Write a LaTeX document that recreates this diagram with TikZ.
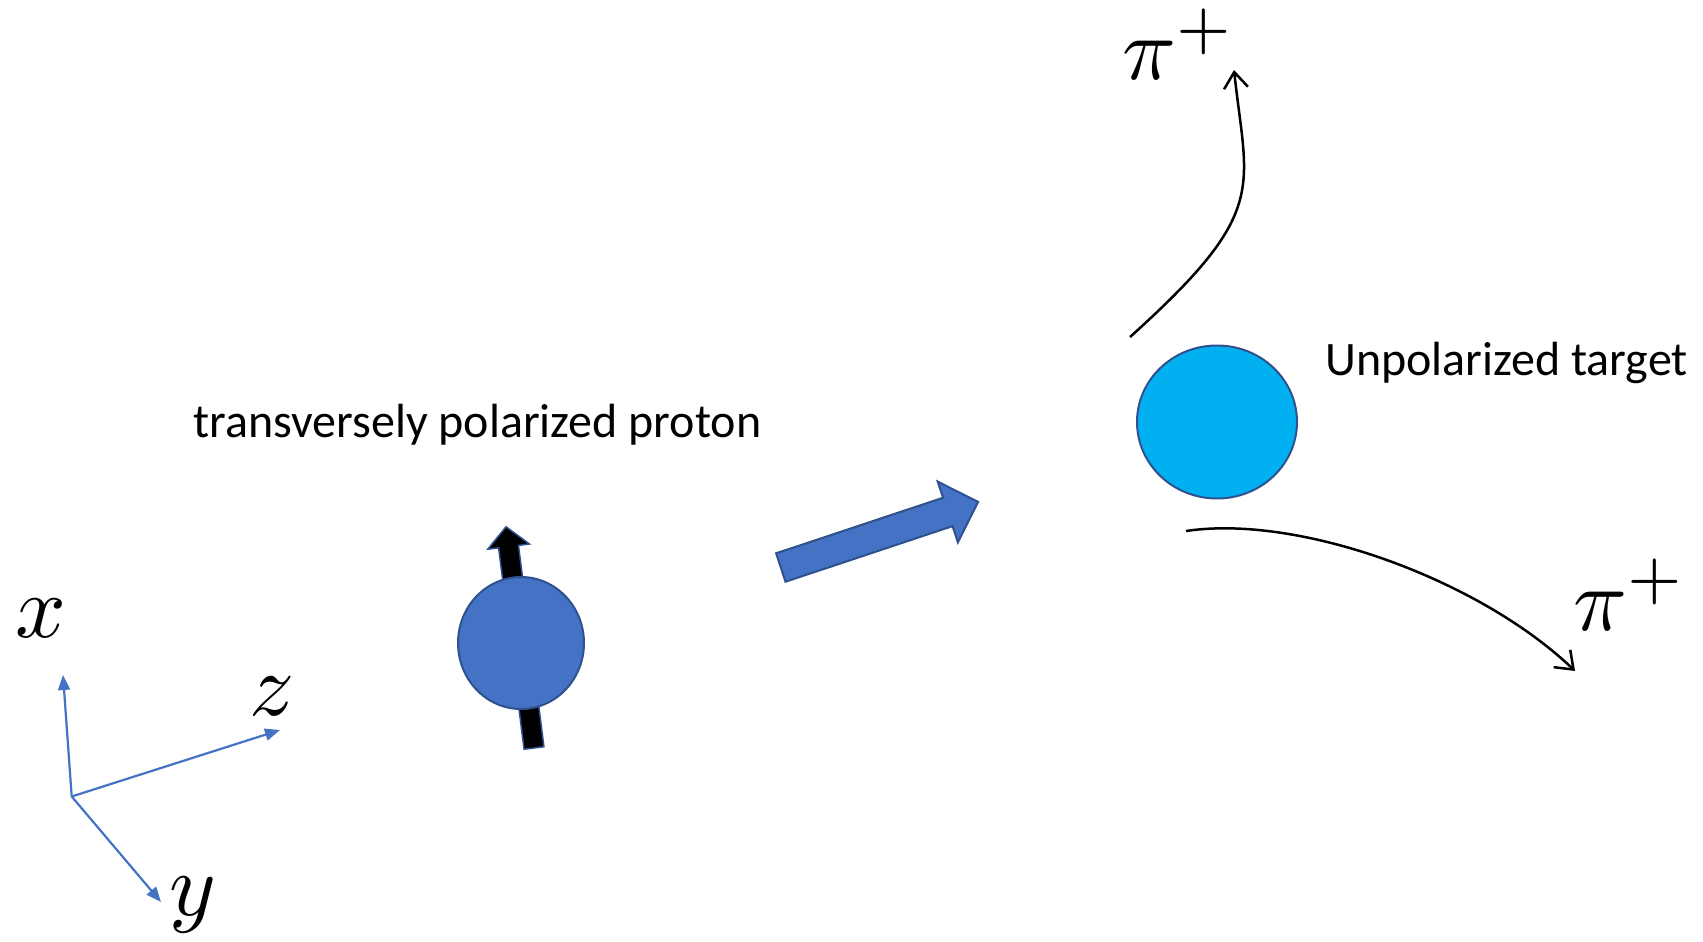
\documentclass[tikz,border=0pt]{standalone}
\usepackage{fontspec}
\newfontfamily\calfont{Carlito}
\usetikzlibrary{arrows.meta,shapes.geometric}
\definecolor{pblue}{HTML}{4472C4}
\definecolor{dblue}{HTML}{2F528F}
\definecolor{tcyan}{HTML}{00B0F0}
\begin{document}
\begin{tikzpicture}[x=1pt,y=-1pt,
  axis/.style={draw=pblue, line width=2.2pt, -{Triangle[length=15pt,width=12pt]}},
  lbl/.style={inner sep=0pt, scale=8.9},
  txt/.style={inner sep=0pt, anchor=base west, font=\calfont\fontsize{48}{57}\selectfont},
  pion/.style={line width=2.5pt, -{Straight Barb[length=16pt,width=24pt]}},
  ball/.style={ellipse, draw=dblue, line width=2pt, inner sep=0pt}
]
\useasboundingbox (0,0) rectangle (1703,942);

% axes
\coordinate (O) at (71.7,796.5);
\coordinate (xt) at (63,675);
\coordinate (zt) at (280,730);
\coordinate (yt) at (161,902);
\draw[axis] (O) -- (xt);
\draw[axis] (O) -- (zt);
\draw[axis] (O) -- (yt);
\node[lbl] (xl) at (41,618) {$x$};
\node[lbl] (zl) at (272,696) {$z$};
\node[lbl] (yl) at (193,905) {$y$};

% spin arrow
\begin{scope}[shift={(534,748)}, rotate=97.2]
\draw[fill=black, draw=dblue, line width=1.5pt]
  (0,-10) -- (203,-10) -- (203,-21) -- (223,0) -- (203,21) -- (203,10) -- (0,10) -- cycle;
\end{scope}
\node[ball, fill=pblue, minimum width=126pt, minimum height=132pt] (proton) at (521,643) {};
\node[txt] (ptext) at (193,437) {transversely polarized proton};

% beam arrow
\begin{scope}[shift={(780.8,567.5)}, rotate=18.4]
\draw[fill=pblue, draw=dblue, line width=2pt]
  (0,-15) -- (176,-15) -- (176,-32) -- (208,0) -- (176,32) -- (176,15) -- (0,15) -- cycle;
\end{scope}

% target
\node[ball, fill=tcyan, minimum width=160pt, minimum height=153pt] (target) at (1217,422) {};
\node[txt] (ttext) at (1325,375) {Unpolarized target};

% pions
\coordinate (p1s) at (1130,337);
\coordinate (p1e) at (1234,70);
\draw[pion] (p1s) .. controls (1270,211) and (1247,190) .. (p1e);
\coordinate (p2s) at (1186,531);
\coordinate (p2e) at (1575,671);
\draw[pion] (p2s) .. controls (1300,514) and (1480,580) .. (p2e);
\node[lbl, anchor=base west] (pi1) at (1121,80) {$\pi^+$};
\node[lbl, anchor=base west] (pi2) at (1572,630) {$\pi^+$};
\end{tikzpicture}
\end{document}
